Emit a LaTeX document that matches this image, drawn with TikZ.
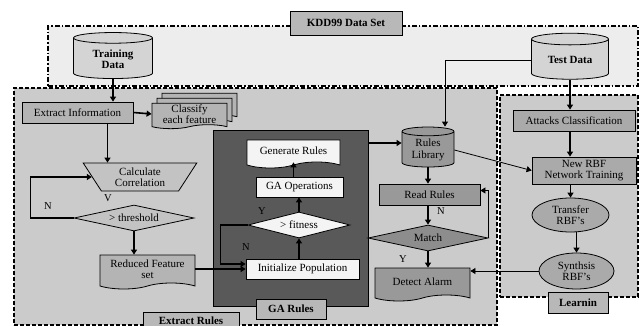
\documentclass[tikz,border=0pt]{standalone}
\usepackage{fontspec}
\setmainfont{Liberation Serif}
\usetikzlibrary{arrows.meta,shapes.geometric,shapes.symbols,shadows,calc}
\usepackage{xcolor}
\definecolor{kddgray}{HTML}{EDEDED}
\definecolor{zonegray}{HTML}{CBCBCB}
\definecolor{tabgray}{HTML}{B8B8B8}
\definecolor{boxgray}{HTML}{B4B4B4}
\definecolor{cylgray}{HTML}{D4D4D4}
\definecolor{gagray}{HTML}{595959}
\definecolor{lightbox}{HTML}{F4F4F4}
\definecolor{darkbox}{HTML}{999999}
\definecolor{ovalgray}{HTML}{AAAAAA}
\tikzset{
  kddzone/.style={draw=black, line width=1.5pt, dash pattern=on 5pt off 2pt on 1.5pt off 2pt, fill=kddgray, inner sep=0pt},
  zone/.style={draw=black, line width=1.5pt, dash pattern=on 4pt off 2pt, fill=zonegray, inner sep=0pt},
  tabbox/.style={draw=black, thick, fill=tabgray, font=\fontsize{11}{11}\selectfont\bfseries, inner sep=1pt},
  box/.style={draw=black, thick, fill=boxgray, align=center, inner sep=1pt, font=\fontsize{11}{11.5}\selectfont},
  docbox/.style={box, tape, tape bend top=none, tape bend bottom=in and out, tape bend height=6pt},
  database/.style={box, cylinder, shape border rotate=90, aspect=0.25, fill=cylgray},
  decision/.style={box, diamond, aspect=4},
  oval/.style={box, ellipse, fill=ovalgray},
  arrow/.style={-{Triangle[length=5pt,width=6pt]}, line width=1.6pt},
  thinarrow/.style={-{Triangle[length=5pt,width=6pt]}, line width=0.8pt},
  yn/.style={font=\fontsize{10.5}{10.5}\selectfont, inner sep=0pt}
}
\begin{document}
\begin{tikzpicture}[x=1pt, y=-1pt]
  \useasboundingbox (0,0) rectangle (639,326);
  % areas
  \node[kddzone, minimum width=590, minimum height=60] (kddarea) at (343,56) {};
  \node[tabbox, minimum width=112, minimum height=24] (kddlabel) at (346,23) {KDD99 Data Set};
  \node[database, minimum width=79, minimum height=46, font=\fontsize{11}{11.5}\selectfont\bfseries] (train) at (113,59) {Training\\Data};
  \node[database, minimum width=77, minimum height=46, font=\fontsize{11}{11.5}\selectfont\bfseries] (test) at (570,60) {Test Data};
  \node[zone, minimum width=483, minimum height=237] (extarea) at (255.5,206.5) {};
  \node[zone, minimum width=138, minimum height=202] (learnarea) at (569,196) {};
  \node[draw=black, thick, fill=gagray, minimum width=155, minimum height=176] (gaarea) at (290.5,218) {};
  \node[tabbox, minimum width=96, minimum height=18] (extlabel) at (191,321) {Extract Rules};
  \node[tabbox, minimum width=70, minimum height=20] (galabel) at (291,309) {GA Rules};
  \node[tabbox, minimum width=60, minimum height=21] (learnlabel) at (578,302.5) {Learnin};
  % extract rules
  \node[box, minimum width=111, minimum height=21] (extinfo) at (77.5,112.5) {Extract Information};
  \node[docbox, minimum width=75, minimum height=24, tape bend height=4pt,
    double copy shadow={shadow xshift=5pt, shadow yshift=5pt, fill=boxgray, draw=black, thick}] (classify) at (189.5,114) {Classify\\each feature};
  \node[box, trapezium, trapezium left angle=60, trapezium right angle=60, shape border rotate=180,
    trapezium stretches=true, minimum width=114, minimum height=28, fill=boxgray!80!white] (calc) at (140,177) {Calculate\\Correlation};
  \node[decision, minimum width=120, minimum height=26, fill=boxgray!80!white] (thresh) at (134,218) {> threshold};
  \node[docbox, minimum width=95, minimum height=34] (redset) at (147.5,269) {Reduced Feature\\set};
  \node[yn] (v1) at (108,198) {V};
  \node[yn] (n1) at (48,206) {N};
  % GA rules
  \node[docbox, minimum width=93, minimum height=28, fill=lightbox] (genrules) at (293.5,151) {Generate Rules};
  \node[box, minimum width=87, minimum height=20, fill=lightbox] (gaops) at (299.5,187) {GA Operations};
  \node[decision, minimum width=102, minimum height=26, fill=lightbox] (fitness) at (299,225) {> fitness};
  \node[box, minimum width=113, minimum height=20, fill=lightbox] (initpop) at (302.5,269) {Initialize Population};
  \node[yn] (y2) at (262,211) {Y};
  \node[yn] (n2) at (246,247) {N};
  % rules library
  \node[database, minimum width=52, minimum height=40, fill=darkbox] (rulelib) at (428,150) {Rules\\Library};
  \node[box, minimum width=101, minimum height=21, fill=darkbox] (readrules) at (429.5,194.5) {Read Rules};
  \node[decision, minimum width=120, minimum height=26, fill=darkbox!92!black] (match) at (428,238) {Match};
  \node[docbox, minimum width=95, minimum height=33, fill=darkbox] (detect) at (422.5,281.5) {Detect Alarm};
  \node[yn] (n3) at (441,211) {N};
  \node[yn] (y3) at (403,259) {Y};
  % learning
  \node[box, minimum width=122, minimum height=21, fill=ovalgray] (attacks) at (574,120.5) {Attacks Classification};
  \node[box, minimum width=104, minimum height=27, fill=ovalgray] (newrbf) at (584,170.5) {New RBF\\Network Training};
  \node[oval, minimum width=77, minimum height=34] (transfer) at (570.5,215) {Transfer\\RBF's};
  \node[oval, minimum width=75, minimum height=36] (synth) at (576.5,271) {Synthsis\\RBF's};
  % connectors
  \draw[arrow] (train.south) -- (train.south |- extinfo.north);
  \draw[arrow] (extinfo.east) -- (classify.west);
  \draw[arrow] ([xshift=30pt]extinfo.south) -- ([xshift=30pt]extinfo.south |- calc.north);
  \draw[arrow] (thresh.west) -- ++(-43,0) |- (calc.west);
  \draw[arrow] (thresh.south) -- (thresh.south |- redset.north);
  \draw[arrow] (redset.east) -- (redset.east -| initpop.west);
  \draw[arrow] (fitness.west) -- ++(-27,0) |- ([yshift=5pt]initpop.west);
  \draw[arrow] (fitness.south |- initpop.north) -- (fitness.south);
  \draw[arrow] (fitness.north) -- (fitness.north |- gaops.south);
  \draw[arrow] (genrules.south |- gaops.north) -- (genrules.south);
  \coordinate (libin) at ([yshift=7pt]rulelib.west);
  \draw[arrow] (gaarea.east |- libin) -- (libin);
  \draw[thinarrow] (test.west) -| ([xshift=17pt]rulelib.north);
  \draw[thinarrow] (rulelib.east) -- (newrbf.west);
  \draw[arrow] (rulelib.south) -- (rulelib.south |- readrules.north);
  \draw[arrow] (rulelib.south |- readrules.south) -- (rulelib.south |- match.north);
  \draw[thinarrow] (match.east) |- ([yshift=4pt]readrules.east);
  \draw[arrow] (match.south) -- (match.south |- detect.north);
  \draw[arrow] (test.south) -- (test.south |- attacks.north);
  \draw[arrow] (test.south |- attacks.south) -- (test.south |- newrbf.north);
  \draw[arrow] (transfer.north |- newrbf.south) -- (transfer.north);
  \draw[arrow] (synth.north |- transfer.south) -- (synth.north);
  \draw[thinarrow] (synth.west) -- (synth.west -| detect.east);
\end{tikzpicture}
\end{document}
